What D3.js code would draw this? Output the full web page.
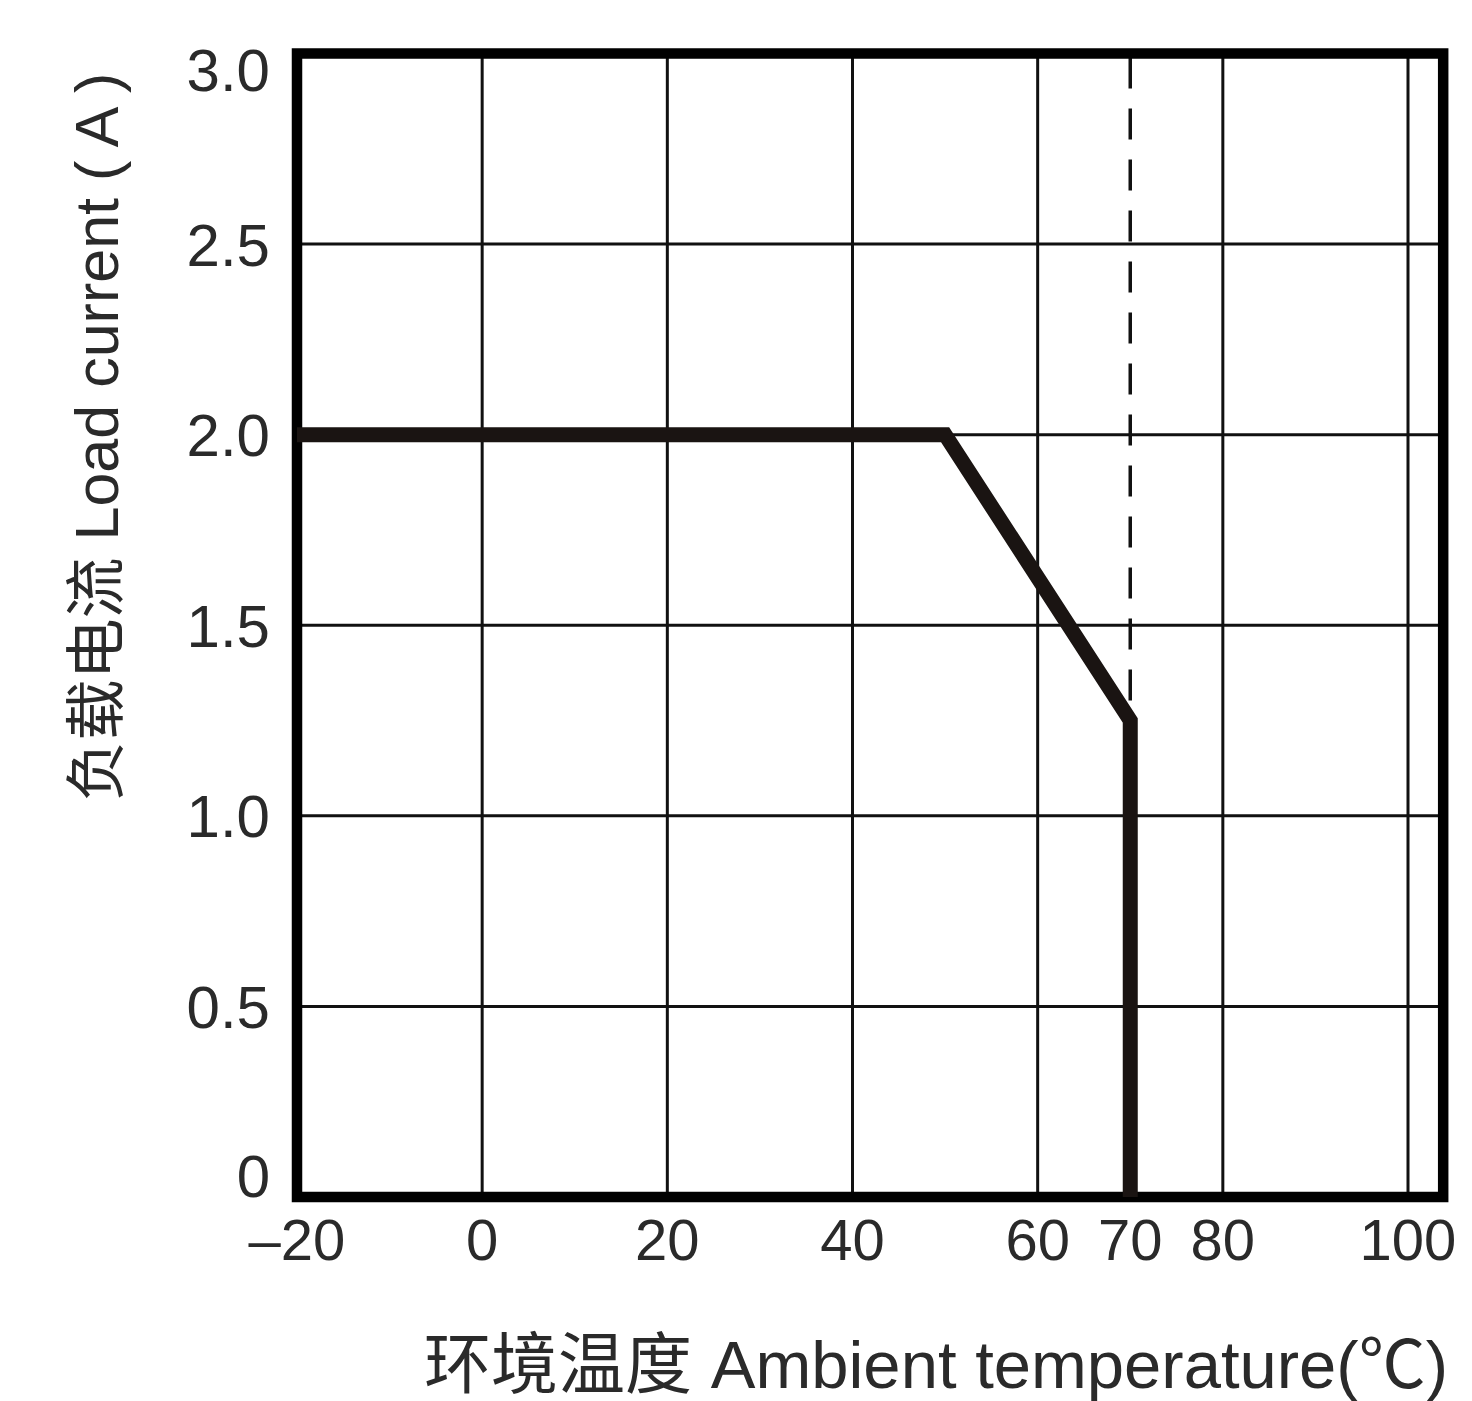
<!DOCTYPE html>
<html>
<head>
<meta charset="utf-8">
<script src="https://cdn.jsdelivr.net/npm/d3@7"></script>
<style>
  body { margin: 0; background: #fff; }
  svg text { font-family: "Liberation Sans", Arial, "Noto Sans CJK SC", sans-serif; fill: #2a2a2a; }
</style>
</head>
<body>
<svg></svg>
<script>
// derating curve: ambient temperature (°C) vs. load current (A)
var curveTemp = [-20, 50, 70, 70];
var curveLoad = [2.0, 2.0, 1.25, 0];

// dashed limit line at 70°C, from the top down to the knee
var limitTemp = [70, 70];
var limitLoad = [3.0, 1.25];

var xTickValues = [-20, 0, 20, 40, 60, 70, 80, 100];
var xTickLabels = ["\u201320", "0", "20", "40", "60", "70", "80", "100"];
var xGridValues = [0, 20, 40, 60, 80, 100];

var yTickValues = [0, 0.5, 1.0, 1.5, 2.0, 2.5, 3.0];
var yTickLabels = ["0", "0.5", "1.0", "1.5", "2.0", "2.5", "3.0"];
var yGridValues = [0.5, 1.0, 1.5, 2.0, 2.5];

var xTitle = "环境温度 Ambient temperature(℃)";
var yTitle = "负载电流 Load current ( A )";

var width = 1472, height = 1401;
var xFrameMax = 103.8;

var x = d3.scaleLinear().domain([-20, 100]).range([297, 1408]);
var y = d3.scaleLinear().domain([0, 3]).range([1197, 53.5]);

var svg = d3.select("svg")
    .attr("width", width)
    .attr("height", height);

// grid
svg.append("g")
    .attr("class", "grid")
    .selectAll("line.v")
    .data(xGridValues)
    .enter().append("line")
    .attr("x1", function(d) { return x(d); })
    .attr("x2", function(d) { return x(d); })
    .attr("y1", y(3))
    .attr("y2", y(0))
    .style("stroke", "#111")
    .style("stroke-width", 3);

svg.append("g")
    .attr("class", "grid")
    .selectAll("line.h")
    .data(yGridValues)
    .enter().append("line")
    .attr("x1", x(-20))
    .attr("x2", x(xFrameMax))
    .attr("y1", function(d) { return y(d); })
    .attr("y2", function(d) { return y(d); })
    .style("stroke", "#111")
    .style("stroke-width", 3);

// dashed 70°C line
var line = d3.line()
    .x(function(d) { return x(d[0]); })
    .y(function(d) { return y(d[1]); });

svg.append("path")
    .attr("d", line(d3.zip(limitTemp, limitLoad)))
    .style("fill", "none")
    .style("stroke", "#111")
    .style("stroke-width", 3.5)
    .style("stroke-dasharray", "31,20")
    .style("stroke-dashoffset", -4);

// frame
svg.append("rect")
    .attr("x", x(-20))
    .attr("y", y(3))
    .attr("width", x(xFrameMax) - x(-20))
    .attr("height", y(0) - y(3))
    .style("fill", "none")
    .style("stroke", "#000")
    .style("stroke-width", 10.5);

// derating curve
svg.append("path")
    .attr("d", line(d3.zip(curveTemp, curveLoad)))
    .style("fill", "none")
    .style("stroke", "#1a1412")
    .style("stroke-width", 15)
    .style("stroke-linejoin", "miter");

// x tick labels
svg.append("g")
    .selectAll("text")
    .data(xTickValues)
    .enter().append("text")
    .attr("x", function(d) { return x(d); })
    .attr("y", 1260)
    .attr("text-anchor", "middle")
    .style("font-size", "58px")
    .text(function(d, i) { return xTickLabels[i]; });

// y tick labels (end ones kept inside the frame height)
svg.append("g")
    .selectAll("text")
    .data(yTickValues)
    .enter().append("text")
    .attr("x", 270)
    .attr("y", function(d) {
        var p = y(d);
        if (d === 3) p += 16;
        if (d === 0) p -= 22;
        return p;
    })
    .attr("dy", "0.36em")
    .attr("text-anchor", "end")
    .style("font-size", "60px")
    .text(function(d, i) { return yTickLabels[i]; });

// axis titles
svg.append("text")
    .attr("x", 1448)
    .attr("y", 1388)
    .attr("text-anchor", "end")
    .style("font-size", "67px")
    .text(xTitle);

svg.append("text")
    .attr("transform", "translate(118,437) rotate(-90)")
    .attr("text-anchor", "middle")
    .style("font-size", "61px")
    .text(yTitle);
</script>
</body>
</html>
